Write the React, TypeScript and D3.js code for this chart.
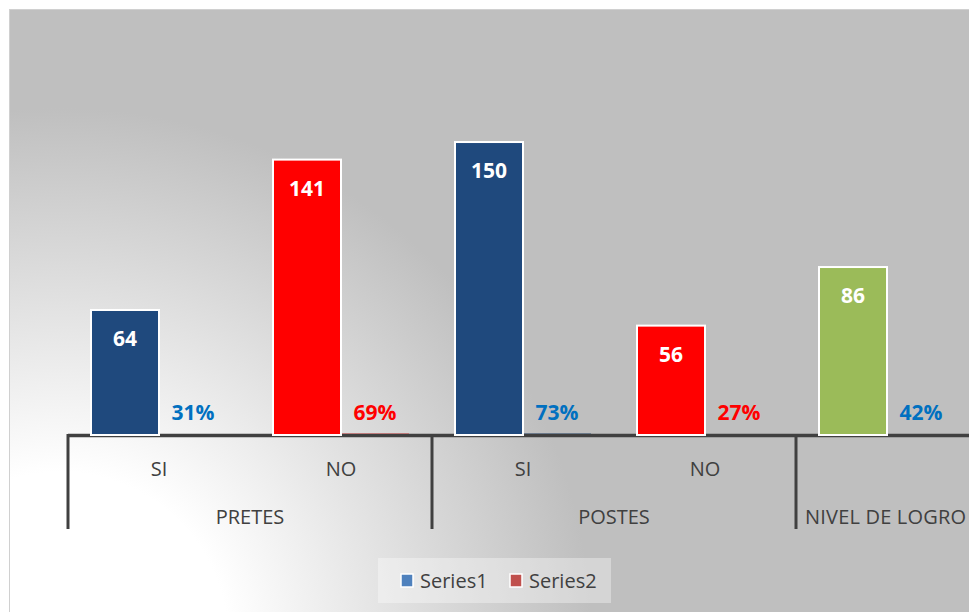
import React from "react";
import * as d3 from "d3";

const groups = ["PRETES", "PRETES", "POSTES", "POSTES", "NIVEL DE LOGRO"];
const subcats = ["SI", "NO", "SI", "NO", ""];
const series1 = [64, 141, 150, 56, 86];
const series2 = [0.31, 0.69, 0.73, 0.27, 0.42];
const pctLabels = ["31%", "69%", "73%", "27%", "42%"];
const barColors = ["#1F497D", "#FF0000", "#1F497D", "#FF0000", "#9BBB59"];
const pctColors = ["#0070C0", "#FF0000", "#0070C0", "#FF0000", "#0070C0"];
const seriesNames = ["Series1", "Series2"];
const legendColors = ["#4F81BD", "#C0504D"];

const W = 969;
const H = 612;
const font = "'Open Sans', 'Noto Sans', sans-serif";

export default function App() {
  const keys = subcats.map((_, i) => String(i));
  const x = d3.scaleBand().domain(keys).range([68, 68 + 182 * keys.length]);
  const xs = d3
    .scaleBand()
    .domain(seriesNames)
    .range([0, x.bandwidth()])
    .paddingInner(0)
    .paddingOuter(23 / 68);
  const y = d3.scaleLinear().domain([0, 160]).range([435, 122.5]);

  // group spans for the second axis level
  const spans: { name: string; start: number; end: number }[] = [];
  groups.forEach((g, i) => {
    const last = spans[spans.length - 1];
    if (last && last.name === g) last.end = i;
    else spans.push({ name: g, start: i, end: i });
  });
  const sepXs = spans.map((s) => x(String(s.start))!);

  return (
    <>
      <style>{"body{margin:0}"}</style>
      <svg width={W} height={H} style={{ display: "block" }}>
        <defs>
          <radialGradient id="bg" gradientUnits="userSpaceOnUse" cx={60} cy={640} r={560}>
            <stop offset="0" stopColor="#ffffff" />
            <stop offset="0.3" stopColor="#ffffff" />
            <stop offset="0.95" stopColor="#bfbfbf" />
            <stop offset="1" stopColor="#bfbfbf" />
          </radialGradient>
        </defs>
        <rect x={0} y={0} width={W} height={H} fill="#ffffff" />
        <rect x={9.5} y={9.5} width={W} height={H} fill="url(#bg)" stroke="#d0d0d0" strokeWidth={1} />

        {series2.map((v, i) => {
          const bx = x(keys[i])! + xs("Series2")!;
          return (
            <g key={"s2" + i}>
              <rect x={bx} y={y(v)} width={xs.bandwidth()} height={y(0) - y(v)} fill={barColors[i]} />
              <text
                x={bx + xs.bandwidth() / 2}
                y={420}
                textAnchor="middle"
                fontFamily={font}
                fontWeight="bold"
                fontSize={21}
                fill={pctColors[i]}
              >
                {pctLabels[i]}
              </text>
            </g>
          );
        })}

        {/* category axis (drawn over the near-zero Series2 bars) */}
        <line x1={68} x2={W + 20} y1={435.5} y2={435.5} stroke="#404040" strokeWidth={3.5} />

        {series1.map((v, i) => {
          const bx = x(keys[i])! + xs("Series1")!;
          return (
            <g key={"s1" + i}>
              <rect
                x={bx}
                y={y(v)}
                width={xs.bandwidth()}
                height={y(0) - y(v)}
                fill={barColors[i]}
                stroke="#ffffff"
                strokeWidth={2}
              />
              <text
                x={bx + xs.bandwidth() / 2}
                y={y(v) + 36}
                textAnchor="middle"
                fontFamily={font}
                fontWeight="bold"
                fontSize={21}
                fill="#ffffff"
              >
                {v}
              </text>
            </g>
          );
        })}

        {sepXs.map((sx, i) => (
          <line key={"sep" + i} x1={sx} x2={sx} y1={434} y2={529} stroke="#404040" strokeWidth={3} />
        ))}
        {subcats.map((s, i) => (
          <text
            key={"sub" + i}
            x={x(keys[i])! + x.bandwidth() / 2}
            y={476}
            textAnchor="middle"
            fontFamily={font}
            fontSize={20}
            fill="#404040"
          >
            {s}
          </text>
        ))}
        {spans.map((s, i) => {
          const cx = (x(String(s.start))! + x(String(s.end))! + x.bandwidth()) / 2;
          const isLast = i === spans.length - 1;
          return (
            <text
              key={"grp" + i}
              x={isLast ? sepXs[i] + 9 : cx}
              y={524}
              textAnchor={isLast ? "start" : "middle"}
              fontFamily={font}
              fontSize={20}
              textLength={isLast ? 161 : undefined}
              fill="#404040"
            >
              {s.name}
            </text>
          );
        })}

        {/* legend */}
        <rect x={378} y={558} width={233} height={45} fill="#ffffff" fillOpacity={0.35} />
        {seriesNames.map((n, i) => {
          const lx = [401, 510][i];
          return (
            <g key={"lg" + i}>
              <rect x={lx} y={574} width={12} height={13} fill={legendColors[i]} stroke="#ffffff" strokeWidth={1.5} />
              <text x={lx + 19} y={588} fontFamily={font} fontSize={20} fill="#404040">
                {n}
              </text>
            </g>
          );
        })}
      </svg>
    </>
  );
}
